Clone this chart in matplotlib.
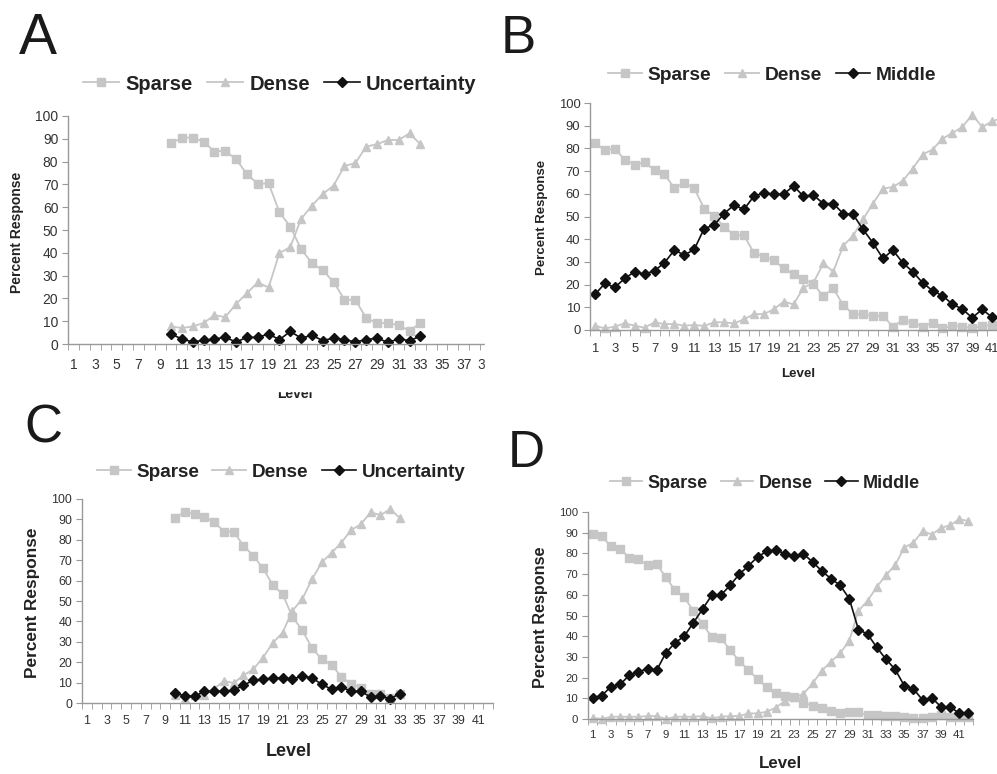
import matplotlib
matplotlib.use('Agg')
import matplotlib.pyplot as plt
from matplotlib.patches import Rectangle
import numpy as np

plt.rcParams['font.family'] = ['Liberation Sans', 'DejaVu Sans']

W, H = 997, 774

# panel A / C: levels 10..33, panel B / D: levels 1..42
levels_ac = list(range(10, 34))
levels_bd = list(range(1, 43))

a_sparse = [88, 90.5, 90.5, 88.8, 84.4, 84.8, 81, 74.6, 70.2, 70.5, 57.8, 51.5,
            41.6, 35.5, 32.3, 27.2, 19.4, 19.4, 11.4, 9.2, 9.2, 8.2, 5.8, 9.2]
a_dense = [7.7, 7, 7.7, 9.2, 12.6, 11.8, 17.5, 22.3, 27, 24.8, 39.9, 42.5,
           54.9, 60.7, 65.8, 69.5, 78.1, 79.3, 86.6, 87.6, 89.5, 89.5, 92.4, 87.6]
a_unc = [4.4, 2.2, 0.9, 1.6, 2.2, 2.9, 0.9, 2.9, 2.9, 4.4, 1.9, 5.5,
         2.6, 3.8, 1.5, 2.6, 1.9, 0.9, 1.9, 2.6, 0.7, 2.2, 1.5, 3.4]

b_sparse = [82.4, 79.2, 79.8, 75.1, 72.9, 73.8, 70.4, 68.6, 62.5, 64.8,
            62.5, 53.4, 50.3, 45.5, 41.8, 41.8, 34, 32.3, 30.8, 27.1,
            24.5, 22.4, 20.2, 15, 18.3, 11, 7, 7, 6, 6.3,
            1.5, 4.4, 3.2, 1.5, 3.2, 0.7, 1.8, 1.5, 0.7, 1.8,
            2.2, 2]
b_dense = [1.9, 0.7, 1.5, 2.9, 1.9, 1, 3.4, 2.6, 2.6, 1.9,
           2.2, 1.8, 3.4, 3.4, 2.9, 4.7, 7, 7, 9.1, 12.5,
           11.3, 18.6, 20.8, 29.3, 25.7, 37.1, 41.5, 48.8, 55.7, 62.3,
           63, 65.7, 71.1, 77.3, 79.5, 84.3, 86.8, 89.4, 94.9, 89.4,
           91.9, 93.5]
b_mid = [15.7, 20.5, 18.8, 22.7, 25.7, 24.6, 26.1, 29.6, 35.2, 33,
         35.5, 44.7, 46.2, 51.3, 55, 53.1, 58.9, 60.4, 59.8, 59.8,
         63.5, 58.9, 59.4, 55.7, 55.7, 51.3, 50.9, 44.3, 38.4, 31.5,
         35.2, 29.6, 25.7, 20.8, 17.3, 15.1, 11.4, 9.2, 5.4, 9.1,
         5.6, 5]

c_sparse = [90.8, 93.8, 92.6, 91, 88.9, 84, 84, 77.1, 72.2, 66, 57.8, 53.4,
            42.2, 35.7, 27, 21.4, 18.8, 12.8, 9.5, 7.4, 4.3, 4.3, 2.6, 4.3]
c_dense = [3.8, 2.1, 3.8, 3.8, 7, 10.8, 9.8, 13.6, 16.5, 22.3, 29.5, 34.5,
           45.2, 50.9, 60.6, 68.9, 73.6, 78.6, 84.8, 87.6, 93.5, 92.1, 95.1, 90.5]
c_unc = [5.1, 3.3, 3.3, 5.7, 5.7, 5.7, 6.2, 8.7, 11.1, 11.6, 12.3, 12.3,
         11.6, 13.3, 12.3, 9.2, 6.7, 7.9, 5.7, 5.7, 2.9, 3.3, 2.1, 4.6]

d_sparse = [89.2, 88.4, 83.4, 82.3, 77.9, 77.2, 74.3, 74.8, 68.4, 62.2,
            58.7, 52.3, 45.8, 39.7, 39.2, 33.3, 28.1, 23.6, 19.3, 15.3,
            12.4, 11.1, 10.5, 7.9, 6.4, 5.1, 3.9, 2.7, 3.2, 3.2,
            1.9, 1.9, 1.4, 1.4, 0.8, 0.3, 0.3, 1.1, 1.9, 1.1,
            0.8, 1.1]
d_dense = [0.6, 0, 1.1, 1.1, 1.1, 1.1, 1.4, 1.4, 0, 1.1,
           1.1, 1.1, 1.4, 0.3, 1.1, 1.4, 1.4, 2.7, 2.7, 3.5,
           5.5, 8.8, 10.5, 12.1, 17.2, 23.3, 27.7, 31.7, 37.8, 52.3,
           57.1, 63.8, 69.5, 74.3, 82.8, 85.2, 90.8, 89.1, 92.3, 93.6,
           96.5, 95.7]
d_mid = [10.3, 11.3, 15.6, 16.7, 21.1, 22.8, 24.3, 23.6, 32, 36.8,
         40, 46.5, 53.1, 59.8, 59.8, 64.6, 69.9, 74, 78.3, 81,
         81.5, 79.9, 78.8, 79.7, 75.9, 71.5, 67.8, 64.6, 58.2, 43.2,
         41, 34.6, 28.9, 24, 16.1, 14.5, 9.2, 10.3, 5.9, 5.9,
         2.7, 2.7]

GRAY = '#c6c6c6'


def px(x, y):
    # pixel (from top left) -> figure fraction
    return x / W, 1 - y / H


def box(left, right, top, bottom):
    return [left / W, 1 - bottom / H, (right - left) / W, (bottom - top) / H]


fig = plt.figure(figsize=(W / 100, H / 100), dpi=100)


def panel(rect, xmax, levels, sparse, dense, third, third_name, letter, letter_xy,
          letter_size, leg_xy, leg_size, ylab_xy, ylab_size, xlab_xy, xlab_size,
          tick_size, xpad):
    ax = fig.add_axes(rect)
    ax.plot(levels, sparse, color=GRAY, lw=1.3, marker='s', ms=5.2,
            mec=GRAY, mfc=GRAY, label='Sparse')
    ax.plot(levels, dense, color=GRAY, lw=1.3, marker='^', ms=5.8,
            mec=GRAY, mfc=GRAY, label='Dense')
    ax.plot(levels, third, color='#111111', lw=1.2, marker='D', ms=4.6,
            mec='#111111', mfc='#111111', label=third_name)
    ax.set_yticks(np.arange(0, 101, 10))
    ax.set_xticks(np.arange(1, 42, 2))
    ax.set_xticks(np.arange(0.5, 43, 1), minor=True)
    # limits after the ticks, set_xticks would widen them
    ax.set_xlim(0.5, xmax)
    ax.set_ylim(0, 100)
    for s in ['top', 'right']:
        ax.spines[s].set_visible(False)
    for s in ['left', 'bottom']:
        ax.spines[s].set_color('#999999')
        ax.spines[s].set_linewidth(1.0)
    ax.tick_params(axis='x', which='major', length=0, pad=xpad,
                   labelsize=tick_size, labelcolor='#333333')
    ax.tick_params(axis='x', which='minor', length=4, color='#999999')
    ax.tick_params(axis='y', length=4, color='#999999', pad=3,
                   labelsize=tick_size, labelcolor='#333333')
    for line in ax.lines:
        line.set_clip_on(False)

    fig.text(*px(*letter_xy), letter, fontsize=letter_size, ha='left',
             va='baseline', color='#1a1a1a')
    leg = ax.legend(loc='center', bbox_to_anchor=px(*leg_xy),
                    bbox_transform=fig.transFigure, ncol=3, frameon=False,
                    handlelength=1.8, handletextpad=0.3, columnspacing=0.7,
                    prop={'size': leg_size, 'weight': 'bold'})
    for t in leg.get_texts():
        t.set_color('#222222')
    fig.text(*px(*ylab_xy), 'Percent Response', rotation=90, ha='center',
             va='center', fontsize=ylab_size, fontweight='bold', color='#222222')
    fig.text(*px(*xlab_xy), 'Level', ha='center', va='center',
             fontsize=xlab_size, fontweight='bold', color='#222222')
    return ax


panel(box(68, 487.6, 116, 344), 39.2, levels_ac, a_sparse, a_dense, a_unc,
      'Uncertainty', 'A', (19, 54), 41, (280, 84), 14.5, (17, 232), 10,
      (295, 394), 10, 10, 10)
panel(box(590, 1007, 103, 330), 42.5, levels_bd, b_sparse, b_dense, b_mid,
      'Middle', 'B', (501, 53), 38, (772, 75), 13.8, (542, 217), 9.5,
      (798, 374), 9.6, 9.4, 9)
panel(box(82, 493, 499, 703), 42.5, levels_ac, c_sparse, c_dense, c_unc,
      'Uncertainty', 'C', (24, 442), 38, (281, 472), 13.6, (32, 603), 12.4,
      (289, 752), 13, 8.9, 9)
panel(box(588, 973, 512, 719), 42.5, levels_bd, d_sparse, d_dense, d_mid,
      'Middle', 'D', (508, 467), 37, (765, 483), 13, (541, 617), 11.7,
      (780, 764), 12.2, 8.2, 8)

# panel A was cropped at its right and bottom edges in the source figure
fig.add_artist(Rectangle(px(0, 391), 500 / W, 8 / H, transform=fig.transFigure,
                         color='white', zorder=20))
fig.add_artist(Rectangle(px(485, 391), 15 / W, 300 / H, transform=fig.transFigure,
                         color='white', zorder=20))

fig.savefig('out.png', dpi=100)
